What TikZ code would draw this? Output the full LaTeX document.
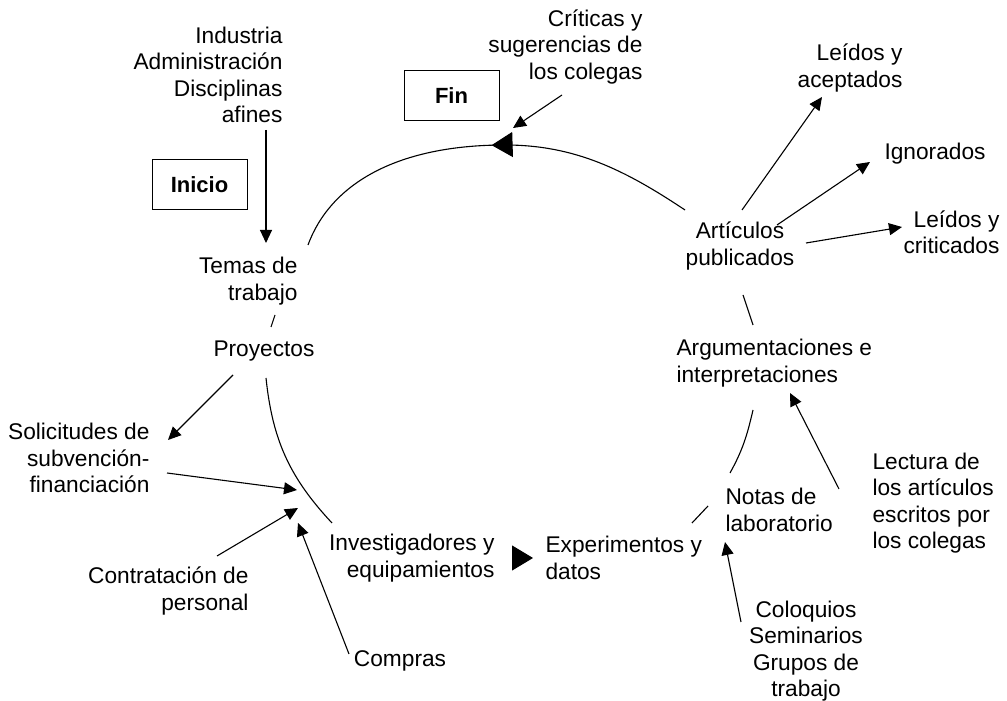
\documentclass[tikz,border=0pt]{standalone}
\usepackage{fontspec}
\setmainfont{Liberation Sans}
\usetikzlibrary{arrows.meta,decorations.markings}

\begin{document}
\begin{tikzpicture}[x=1pt, y=1pt, line width=1.1pt,
        lbl/.style={inner sep=0pt, font=\fontsize{22.7}{26.3}\selectfont},
        box/.style={draw, line width=1pt, minimum width=95pt, minimum height=50pt, font=\fontsize{22}{26}\selectfont\bfseries},
        arr/.style={-{Triangle[length=13pt,width=12pt]}},
        bigtip/.style={-{Triangle[length=21pt,width=25pt]}},
        midarr/.style={postaction={decorate}, decoration={markings, mark=at position #1 with {\arrow{Triangle[length=21pt,width=25pt]}}}}]
        \useasboundingbox (0,0) rectangle (1007,701);
        % boxes
        \node[box] (inicio) at (199.5,516) {Inicio};
        \node[box] (fin) at (451.5,605) {Fin};
        % cycle
        \node[lbl, align=right, anchor=east] (temas) at (298,420) {Temas de\\trabajo};
        \node[lbl] (proy) at (264,350) {Proyectos};
        \node[lbl, align=right, anchor=east] (inv) at (495,143) {Investigadores y\\equipamientos};
        \node[lbl, align=left, anchor=west] (exp) at (545,143) {Experimentos y\\datos};
        \node[lbl, align=left, anchor=west] (notas) at (725,191) {Notas de\\laboratorio};
        \node[lbl, align=left, anchor=west] (argum) at (676,338) {Argumentaciones e\\interpretaciones};
        \node[lbl, align=center] (artic) at (740,455) {Artículos\\publicados};
        % inputs and outputs
        \node[lbl, align=right, anchor=east] (ind) at (283,626) {Industria\\Administración\\Disciplinas\\afines};
        \node[lbl, align=right, anchor=east] (crit) at (643,654) {Críticas y\\sugerencias de\\los colegas};
        \node[lbl, align=right, anchor=east] (solic) at (150,243) {Solicitudes de\\subvención-\\financiación};
        \node[lbl, align=right, anchor=east] (contr) at (249,110) {Contratación de\\personal};
        \node[lbl] (compras) at (400,40) {Compras};
        \node[lbl, align=center] (coloq) at (806,50) {Coloquios\\Seminarios\\Grupos de\\trabajo};
        \node[lbl, align=left, anchor=west] (lectura) at (872,198) {Lectura de\\los artículos\\escritos por\\los colegas};
        \node[lbl, align=right, anchor=east] (leia) at (903,633) {Leídos y\\aceptados};
        \node[lbl] (ign) at (935,547) {Ignorados};
        \node[lbl, align=right, anchor=east] (leic) at (1000,469) {Leídos y\\criticados};
        % the circle
        \draw[midarr=208pt] ([shift={(-55,36)}]artic.center) .. controls (625,531) and (575,556) .. (505,556) coordinate (cima)
                .. controls (395,556) and (330,516) .. ([shift={(10,36)}]temas.east);
        \draw ([shift={(-23,-34)}]temas.east) -- ([shift={(7,24)}]proy.center);
        \draw ([shift={(2,-27)}]proy.center) to[out=276, in=133] ([shift={(-163,35)}]inv.east);
        \draw[bigtip] ([xshift=17pt]inv.east) -- ([xshift=-12pt]exp.west);
        \draw ([shift={(147,35)}]exp.west) -- ([shift={(-17,4)}]notas.west);
        \draw ([shift={(5,37)}]notas.west) to[out=61, in=257] ([shift={(77,-47)}]argum.west);
        \draw ([shift={(77,38)}]argum.west) -- ([shift={(3,-49)}]artic.center);
        % arrows
        \draw[arr] ([shift={(-17,-55)}]ind.east) -- ([shift={(-32,38)}]temas.east);
        \draw[arr] ([shift={(-81,-48)}]crit.east) -- ([shift={(8,17)}]cima);
        \draw[arr] ([shift={(-31,-24)}]proy.center) -- ([shift={(18,18)}]solic.east);
        \draw[arr] ([shift={(17,-15)}]solic.east) -- ([shift={(-198,68)}]inv.east);
        \draw[arr] ([shift={(-32,35)}]contr.east) -- ([shift={(-197,50)}]inv.east);
        \draw[arr] ([shift={(-51,7)}]compras.center) -- ([shift={(-197,35)}]inv.east);
        \draw[arr] ([shift={(-65,29)}]coloq.center) -- ([shift={(0,-32)}]notas.west);
        \draw[arr] ([shift={(-33,14)}]lectura.west) -- ([shift={(114,-30)}]argum.west);
        \draw[arr] ([shift={(2,36)}]artic.center) -- ([shift={(-81,-29)}]leia.east);
        \draw[arr] ([shift={(37,21)}]artic.center) -- ([shift={(-65,-8)}]ign.center);
        \draw[arr] ([shift={(66,3)}]artic.center) -- ([shift={(-98,5)}]leic.east);
\end{tikzpicture}
\end{document}
